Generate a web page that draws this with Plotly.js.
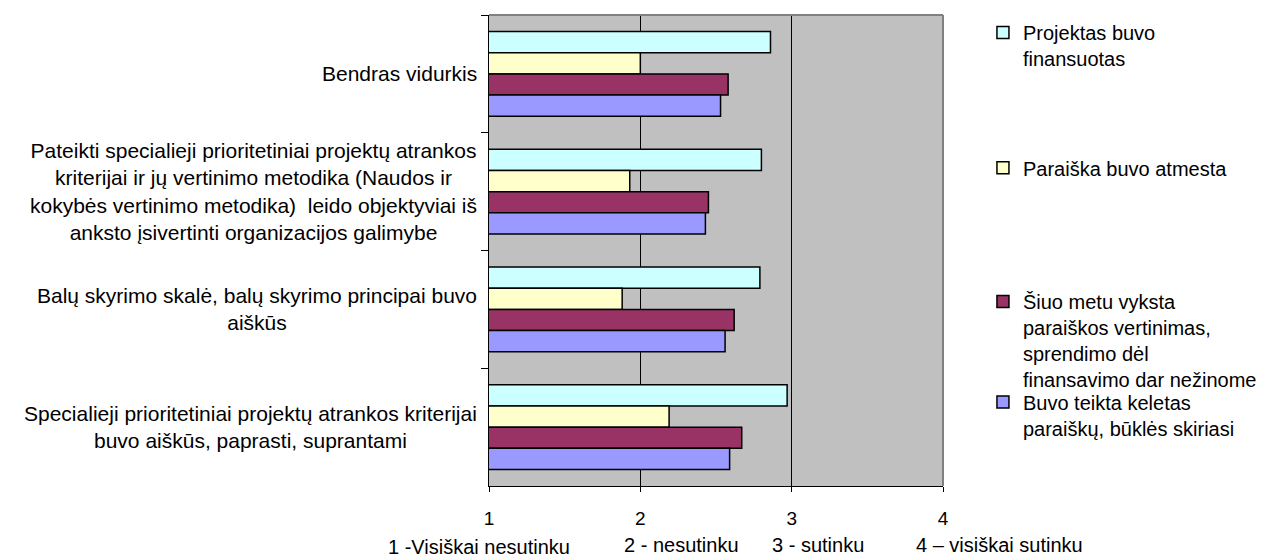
<!DOCTYPE html>
<html>
<head>
<meta charset="utf-8">
<script src="https://cdn.plot.ly/plotly-3.0.1.min.js"></script>
<style>html,body{margin:0;padding:0;background:#fff;}#chart{width:1274px;height:560px;}</style>
</head>
<body>
<div id="chart"></div>
<script>
// ---- data ----
const categories = [
  "Bendras vidurkis",
  "Pateikti specialieji prioritetiniai projektų atrankos<br>kriterijai ir jų vertinimo metodika (Naudos ir<br>kokybės vertinimo metodika)  leido objektyviai iš<br>anksto įsivertinti organizacijos galimybe",
  "Balų skyrimo skalė, balų skyrimo principai buvo<br>aiškūs",
  "Specialieji prioritetiniai projektų atrankos kriterijai<br>buvo aiškūs, paprasti, suprantami"
];
const seriesNames = [
  "Projektas buvo<br>finansuotas",
  "Paraiška buvo atmesta",
  "Šiuo metu vyksta<br>paraiškos vertinimas,<br>sprendimo dėl<br>finansavimo dar nežinome",
  "Buvo teikta keletas<br>paraiškų, būklės skiriasi"
];
const projektasFinansuotas = [2.86, 2.80, 2.79, 2.97];
const paraiskaAtmesta      = [2.00, 1.93, 1.88, 2.19];
const vykstaVertinimas     = [2.58, 2.45, 2.62, 2.67];
const keletasParaisku      = [2.53, 2.43, 2.56, 2.59];
const xTickVals = [1, 2, 3, 4];
const xTickText = ["1", "2", "3", "4"];
const scaleLabels = ["1 -Visiškai nesutinku", "2 - nesutinku", "3 - sutinku", "4 – visiškai sutinku"];

// ---- styles ----
const FONT = "Liberation Sans, Arial, sans-serif";
const colors = ["#CCFFFF", "#FFFFCC", "#993366", "#9999FF"];
const seriesValues = [projektasFinansuotas, paraiskaAtmesta, vykstaVertinimas, keletasParaisku];
const legendIds = ["legend", "legend2", "legend3", "legend4"];
const legendY = [1.004, 0.717, 0.433, 0.220];
const labelX = [-0.023, 0.424, 0.724, 1.125];
const labelY = [-0.130, -0.126, -0.126, -0.126];

const traces = seriesValues.map((vals, i) => ({
  type: "bar",
  orientation: "h",
  name: seriesNames[i],
  x: vals,
  y: categories,
  marker: {color: colors[i], line: {color: "#000", width: 1.5}},
  legend: legendIds[i],
  hoverinfo: "x+name"
}));

const legendBase = {
  x: 1.088, xanchor: "left", yanchor: "top",
  bgcolor: "rgba(0,0,0,0)", borderwidth: 0,
  font: {family: FONT, size: 20, color: "#000"},
  valign: "top", itemclick: false, itemdoubleclick: false
};

const layout = {
  width: 1274, height: 560,
  margin: {l: 489, r: 329, t: 15, b: 74},
  paper_bgcolor: "#fff",
  plot_bgcolor: "#C0C0C0",
  barmode: "group",
  bargap: 0.28,
  bargroupgap: 0,
  font: {family: FONT, size: 19, color: "#000"},
  xaxis: {
    range: [1, 4],
    tickvals: xTickVals, ticktext: xTickText,
    showgrid: true, gridcolor: "#000", gridwidth: 1,
    zeroline: false,
    showline: true, linecolor: "#000", linewidth: 1,
    ticks: "outside", ticklen: 5, tickcolor: "#000", tickwidth: 1,
    ticklabelstandoff: 10,
    tickfont: {family: FONT, size: 19, color: "#000"},
    fixedrange: true
  },
  yaxis: {
    type: "category",
    autorange: "reversed",
    showticklabels: false,
    showgrid: false, zeroline: false,
    showline: true, linecolor: "#000", linewidth: 1,
    ticks: "outside", ticklen: 7, tickcolor: "#000", tickwidth: 1,
    tickson: "boundaries",
    fixedrange: true
  },
  showlegend: true,
  legend: Object.assign({}, legendBase, {y: legendY[0]}),
  legend2: Object.assign({}, legendBase, {y: legendY[1]}),
  legend3: Object.assign({}, legendBase, {y: legendY[2]}),
  legend4: Object.assign({}, legendBase, {y: legendY[3]}),
  shapes: [
    {type: "line", xref: "paper", yref: "paper", x0: 0, x1: 1, y0: 1, y1: 1, line: {color: "#808080", width: 2}, layer: "above"},
    {type: "line", xref: "paper", yref: "paper", x0: 1, x1: 1, y0: 0, y1: 1, line: {color: "#808080", width: 2}, layer: "above"}
  ],
  annotations: categories.map(c => ({
    xref: "paper", yref: "y", x: 0, y: c, xanchor: "right", yanchor: "middle",
    xshift: -10, text: c, showarrow: false, align: "center",
    font: {family: FONT, size: 21, color: "#000"}
  })).concat(scaleLabels.map((t, i) => ({
    xref: "paper", yref: "paper", x: labelX[i], y: labelY[i], xanchor: "center", yanchor: "middle",
    text: t, showarrow: false, font: {family: FONT, size: 20, color: "#000"}
  })))
};

Plotly.newPlot("chart", traces, layout, {displayModeBar: false});
</script>
</body>
</html>
